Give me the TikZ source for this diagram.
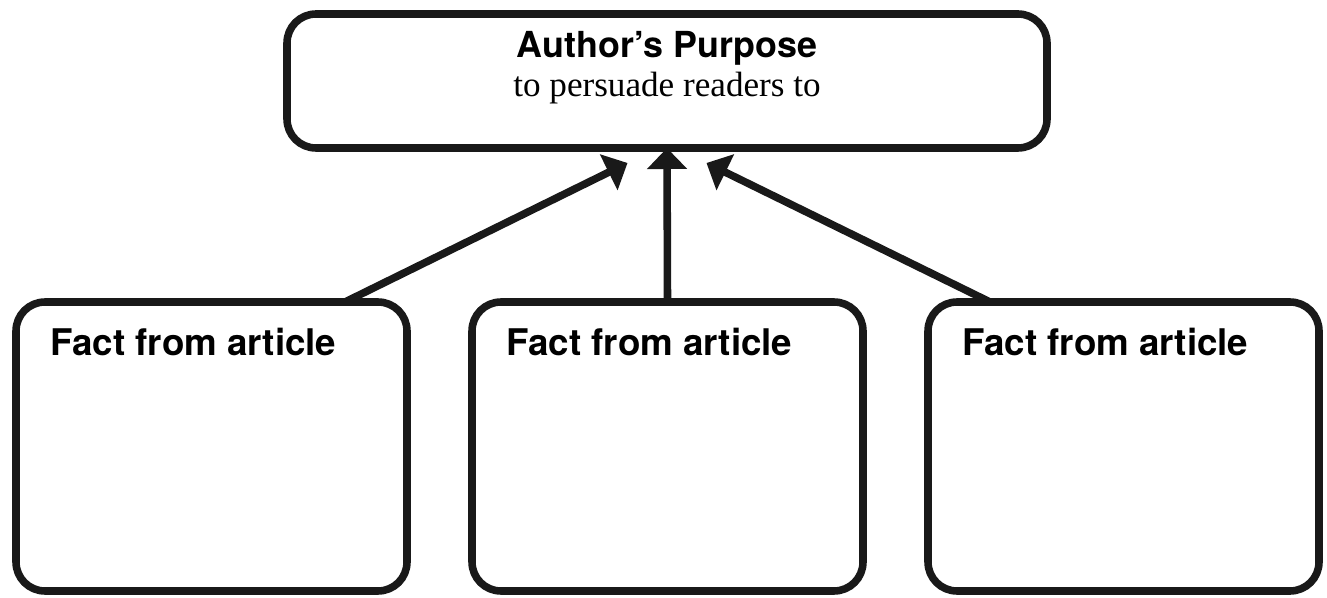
\documentclass[tikz,border=0pt]{standalone}
\usepackage{fontspec}
\setmainfont{Liberation Serif}
\newfontfamily\headfont{TeX Gyre Heros}
\usepackage{tikz}
\usetikzlibrary{calc,positioning,arrows.meta}

\begin{document}
\begin{tikzpicture}[>={Triangle[length=0.42cm,width=0.78cm]},
  card/.style={draw=black!90,line width=4.3pt,rounded corners=0.58cm,inner sep=0pt,outer sep=0pt},
  head/.style={font=\headfont\bfseries\fontsize{20.9pt}{24pt}\selectfont,inner sep=0pt},
  plain/.style={font=\fontsize{20pt}{23pt}\selectfont,inner sep=0pt},
  link/.style={->,draw=black!90,line width=4.3pt}]
\useasboundingbox (0,0) rectangle (26.54,-11.96);
% purpose box on top
\node[card,minimum width=15.2cm,minimum height=2.68cm] (purpose) at (13.34,-1.62) {};
\node[head,anchor=base,font=\headfont\bfseries\fontsize{20.4pt}{24pt}\selectfont] (purposetitle) at ($(purpose.north)+(0,-0.88)$) {Author’s Purpose};
\node[plain,anchor=base] (purposetext) at ($(purpose.north)+(0,-1.66)$) {to persuade readers to};
% three fact boxes
\foreach \i/\x in {1/4.23,2/13.35,3/22.47}{
  \node[card,minimum width=7.82cm,minimum height=5.78cm] (fact\i) at (\x,-8.93) {};
  \node[head,anchor=base west] (fact\i label) at ($(fact\i.north west)+(0.68,-1.08)$) {Fact from article};
}
% arrow ends below the purpose box
\coordinate (tipL) at ($(purpose.south)+(-0.79,-0.3)$);
\coordinate (tipR) at ($(purpose.south)+(0.79,-0.3)$);
\coordinate (startL) at ($(fact1.north)+(2.67,0)$);
\coordinate (startR) at ($(fact3.north)+(-2.67,0)$);
% arrows
\draw[link] (startL) -- (tipL);
\draw[link] (fact2.north) -- (purpose.south);
\draw[link] (startR) -- (tipR);
\end{tikzpicture}
\end{document}
